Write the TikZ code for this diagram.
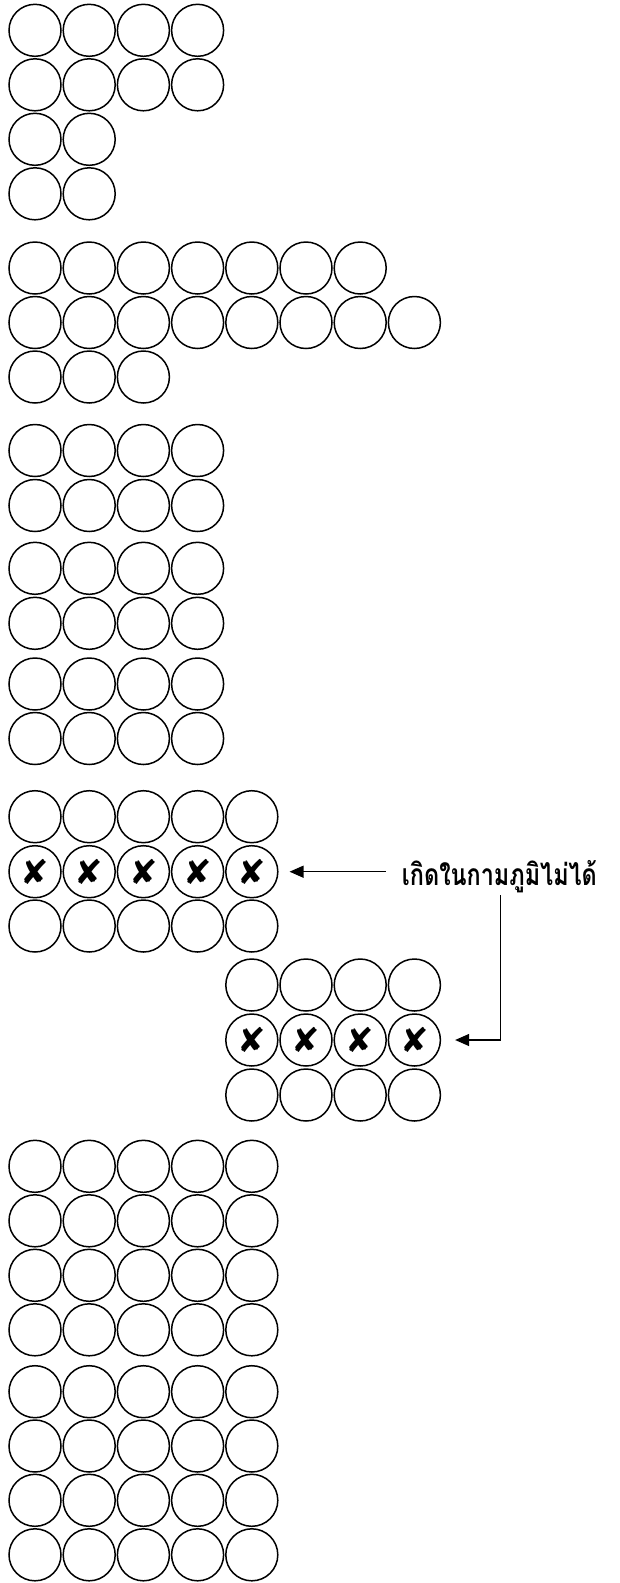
\documentclass[tikz,border=0pt]{standalone}
\usepackage{fontspec}
\newfontfamily\thaifont[Script=Thai, FakeStretch=0.78]{Loma}
\newfontfamily\markfont{DejaVu Sans}
\usetikzlibrary{positioning, calc, arrows.meta}
\tikzset{
    ring/.style={circle, draw=black, line width=1.5pt, minimum size=52pt, inner sep=0pt},
    crossed/.style={ring, font=\markfont\fontsize{34}{34}\selectfont, execute at begin node={✘}},
    thailabel/.style={anchor=base west, inner xsep=16pt, inner ysep=0pt, font=\thaifont\bfseries\fontsize{30}{34}\selectfont},
    arrow/.style={-{Triangle[length=14pt, width=12pt]}, line width=1.3pt},
}

\begin{document}
\begin{tikzpicture}[x=1pt, y=-1pt]
    \useasboundingbox (0,0) rectangle (619,1583);

    % Cerchi: riga y / prima colonna / ultima colonna / stile
    \foreach \y/\a/\b/\s [count=\r] in {
        30.3/1/4/ring, 84.8/1/4/ring, 139.3/1/2/ring, 193.8/1/2/ring,
        268/1/7/ring, 322.5/1/8/ring, 377/1/3/ring,
        450.5/1/4/ring, 505.5/1/4/ring, 568.3/1/4/ring, 623.3/1/4/ring, 684/1/4/ring, 738.5/1/4/ring,
        816.7/1/5/ring, 871.7/1/5/crossed, 926/1/5/ring,
        985/5/8/ring, 1040/5/8/crossed, 1095/5/8/ring,
        1166.3/1/5/ring, 1220.8/1/5/ring, 1275.3/1/5/ring, 1329.8/1/5/ring,
        1391.7/1/5/ring, 1446/1/5/ring, 1500.3/1/5/ring, 1554.8/1/5/ring}
        \foreach \c in {\a,...,\b}
            \node[\s] (c\r-\c) at ({35+(\c-1)*54.2}, \y) {};

    % Etichetta
    \node[thailabel] (lbl) at (385.7, 885) {เกิดในกามภูมิไม่ได้};

    % Frecce
    \draw[arrow, shorten >=11pt] (lbl.west |- c15-5) -- (c15-5);
    \coordinate (drop) at (500.7, 895);
    \draw[arrow, shorten >=14pt] (drop) |- (c18-8);
\end{tikzpicture}
\end{document}
